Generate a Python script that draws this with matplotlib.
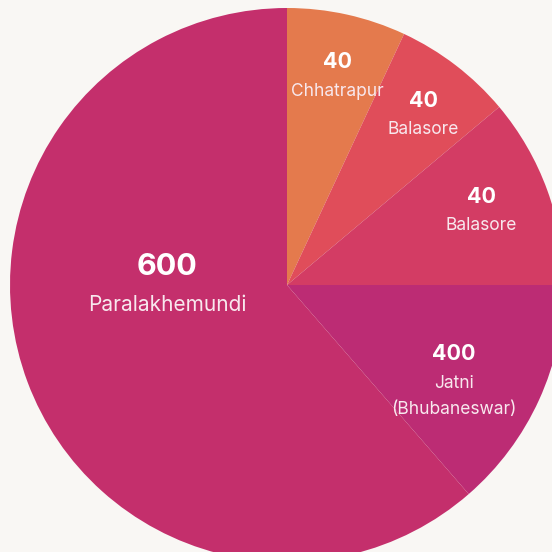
import matplotlib.pyplot as plt

# slice sizes (degrees of the circle) and the labels shown
places = ["Chhatrapur", "Balasore", "Balasore", "Jatni\n(Bhubaneswar)", "Paralakhemundi"]
shown_values = ["40", "40", "40", "400", "600"]
slice_degrees = [25, 25, 40, 49, 221]
colors = ["#e47a4d", "#e04d5a", "#d33c64", "#bc2c74", "#c42f6c"]

bg = "#f9f7f4"
plt.rcParams["font.family"] = ["Inter", "DejaVu Sans"]

fig = plt.figure(figsize=(5.52, 5.52), dpi=100, facecolor=bg)
ax = fig.add_axes([0, 0, 1, 1])
ax.set_facecolor(bg)

# circle centre and radius in pixels
cx, cy, R = 287, 285, 277
ax.pie(slice_degrees, colors=colors, startangle=90, counterclock=False,
       radius=1, center=(0, 0), wedgeprops={"linewidth": 0})
ax.set_xlim(-cx / R, (552 - cx) / R)
ax.set_ylim(-(552 - cy) / R, cy / R)
ax.set_aspect("equal")
ax.axis("off")

# label positions (pixels): value line, then first name line
spots = [(337, 62, 91), (423, 101, 130), (481, 197, 226), (454, 354, 383), (167, 267, 305)]
for i, (px, py_val, py_name) in enumerate(spots):
    big = i == 4
    fig.text(px / 552, 1 - py_val / 552, shown_values[i], ha="center", va="center",
             color="white", fontsize=22 if big else 15.5, fontweight="bold")
    for k, line in enumerate(places[i].split("\n")):
        fig.text(px / 552, 1 - (py_name + 27 * k) / 552, line, ha="center", va="center",
                 color="#f8e8ee", fontsize=15 if big else 12.5)

fig.savefig("out.png", dpi=100, facecolor=bg)
